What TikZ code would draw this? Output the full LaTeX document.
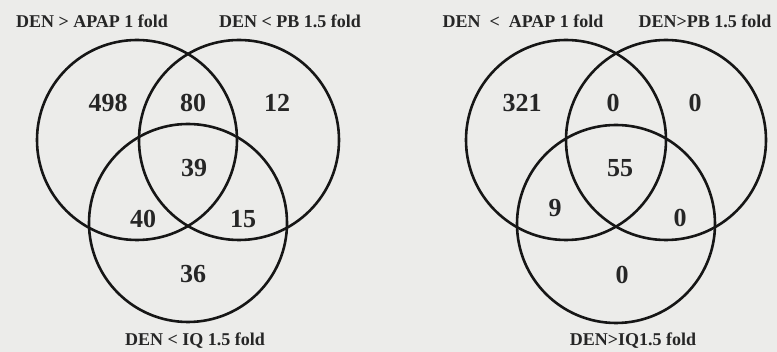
\documentclass[tikz,border=0pt]{standalone}
\usepackage{fontspec}
\setmainfont{Liberation Serif}
\definecolor{hinter}{RGB}{236,236,234}
\definecolor{linie}{RGB}{22,22,22}
\definecolor{schrift}{RGB}{38,38,38}

\begin{document}
\begin{tikzpicture}[x=1pt,y=-1pt,
	kreis/.style={draw=linie,line width=2.6pt},
	zahl/.style={text=schrift,font=\fontsize{26}{26}\selectfont\bfseries},
	titel/.style={text=schrift,font=\fontsize{18}{18}\selectfont\bfseries}]
	
	% Hintergrund
	\fill[hinter] (0,0) rectangle (777,352);
	\useasboundingbox (0,0) rectangle (777,352);
	
		\begin{scope}[shift={(0,0)}]
		
		% Mittelpunkte
		\coordinate (A) at (137,140);
		\coordinate (B) at (239,140);
		\coordinate (C) at (188,223);
		
		% Kreise
		\draw[kreis] (A) circle[radius=100];
		\draw[kreis] (B) circle[radius=100];
		\draw[kreis] (C) circle[radius=99];
		
		% Beschriftung
		\node[titel] (tA1) at (92,21) {DEN > APAP 1 fold};
		\node[titel] (tB1) at (290,21) {DEN < PB 1.5 fold};
		\node[titel] (tC1) at (195,341) {DEN < IQ 1.5 fold};
		
		% Zahlen
		\node[zahl] (zA1)   at (108,103) {498};
		\node[zahl] (zAB1)  at (193,103) {80};
		\node[zahl] (zB1)   at (277,103) {12};
		\node[zahl] (zABC1) at (194,168) {39};
		\node[zahl] (zAC1)  at (143,219) {40};
		\node[zahl] (zBC1)  at (243,219) {15};
		\node[zahl] (zC1)   at (193,274) {36};
		\end{scope}
		
		
		\begin{scope}[shift={(428,0)}]
		
		% Mittelpunkte
		\coordinate (A) at (138,140);
		\coordinate (B) at (238,140);
		\coordinate (C) at (188,224);
		
		% Kreise
		\draw[kreis] (A) circle[radius=100];
		\draw[kreis] (B) circle[radius=100];
		\draw[kreis] (C) circle[radius=99];
		
		% Beschriftung
		\node[titel] (tA2) at (95,21) {DEN \ < \ APAP 1 fold};
		\node[titel] (tB2) at (277,21) {DEN>PB 1.5 fold};
		\node[titel] (tC2) at (205,341) {DEN>IQ1.5 fold};
		
		% Zahlen
		\node[zahl] (zA2)   at (94,103) {321};
		\node[zahl] (zAB2)  at (185,103) {0};
		\node[zahl] (zB2)   at (267,103) {0};
		\node[zahl] (zABC2) at (192,168) {55};
		\node[zahl] (zAC2)  at (127,208) {9};
		\node[zahl] (zBC2)  at (252,218) {0};
		\node[zahl] (zC2)   at (194,275) {0};
		\end{scope}
	
\end{tikzpicture}
\end{document}
